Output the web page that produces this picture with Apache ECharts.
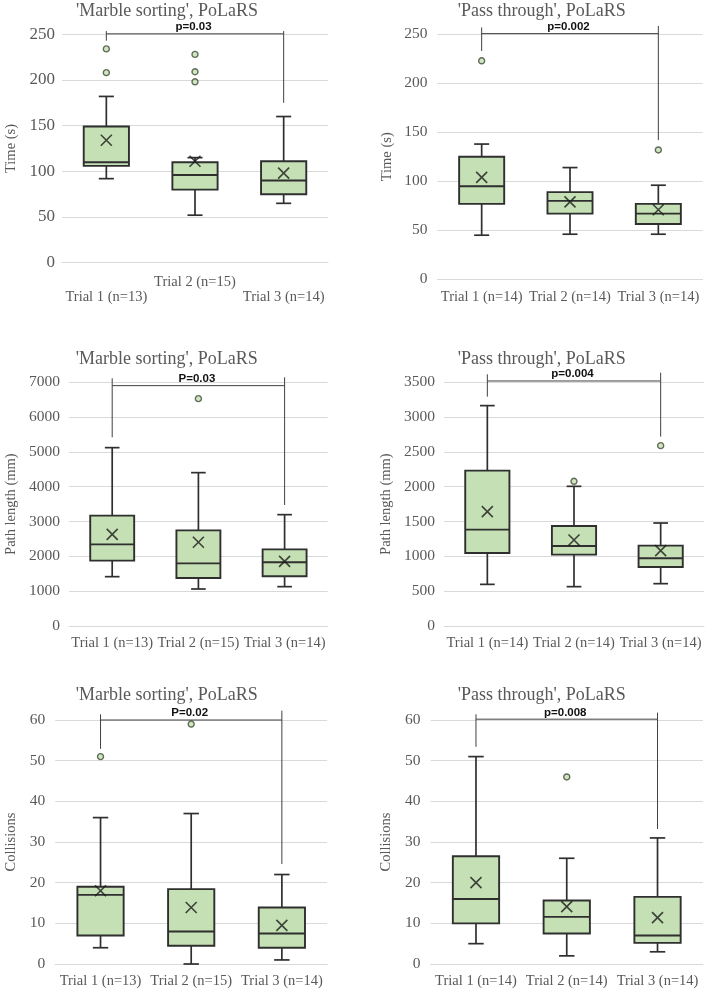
<!DOCTYPE html>
<html>
<head>
<meta charset="utf-8">
<script src="https://cdn.jsdelivr.net/npm/echarts@6/dist/echarts.min.js"></script>
<style>
html,body{margin:0;padding:0;background:#fff;}
#c{width:708px;height:995px;}
</style>
</head>
<body>
<div id="c"></div>
<script>
// ---------- DATA ----------
const catsMarble = ['Trial 1 (n=13)', 'Trial 2 (n=15)', 'Trial 3 (n=14)'];
const catsPass = ['Trial 1 (n=14)', 'Trial 2 (n=14)', 'Trial 3 (n=14)'];

const titles = ["'Marble sorting', PoLaRS", "'Pass through', PoLaRS", "'Marble sorting', PoLaRS", "'Pass through', PoLaRS", "'Marble sorting', PoLaRS", "'Pass through', PoLaRS"];
const yNames = ['Time (s)', 'Time (s)', 'Path length (mm)', 'Path length (mm)', 'Collisions', 'Collisions'];
const pLabels = ['p=0.03', 'p=0.002', 'P=0.03', 'p=0.004', 'P=0.02', 'p=0.008'];
const yMax = [250, 250, 7000, 3500, 60, 60];
const yStep = [50, 50, 1000, 500, 10, 10];

// box: [whisker low, Q1, median, Q3, whisker high]
const timeMarbleBox = [[92, 106, 110, 149, 182], [52, 80, 96, 110, 115], [65, 75, 90, 111, 160]];
const timeMarbleMean = [134, 111, 98];
const timeMarbleOut = [[0, 234], [0, 208], [1, 228], [1, 209], [1, 198]];
// significance bracket: [left top, left bottom, bar, right top, right bottom]
const timeMarbleSig = [253.5, 243, 250.5, 253.5, 175];

const timePassBox = [[45, 77, 95, 125, 138], [46, 67, 80, 89, 114], [46, 56.5, 67, 77, 96]];
const timePassMean = [104, 79, 71];
const timePassOut = [[0, 223], [2, 132]];
const timePassSig = [257, 233, 250.7, 258.5, 142];

const pathMarbleBox = [[1417, 1877, 2346, 3170, 5123], [1063, 1379, 1800, 2748, 4405], [1130, 1427, 1829, 2202, 3198]];
const pathMarbleMean = [2633, 2404, 1858];
const pathMarbleOut = [[1, 6531]];
const pathMarbleSig = [7115, 5420, 6904, 7144, 3476];

const pathPassBox = [[598, 1049, 1384, 2231, 3165], [565, 1025, 1149, 1436, 2006], [608, 847, 972, 1154, 1479]];
const pathPassMean = [1642, 1235, 1082];
const pathPassOut = [[1, 2078], [2, 2590]];
const pathPassSig = [3615, 3294, 3519, 3639, 2720];

const collMarbleBox = [[4, 7, 17, 19, 36], [0, 4.5, 8, 18.4, 37], [1, 4, 7.5, 13.9, 22]];
const collMarbleMean = [18, 13.9, 9.5];
const collMarbleOut = [[0, 51], [1, 59]];
const collMarbleSig = [61.4, 52.9, 60, 62.3, 24.6];

const collPassBox = [[5, 10, 16, 26.5, 51], [2, 7.5, 11.6, 15.6, 26], [3, 5.2, 7, 16.5, 31]];
const collPassMean = [20, 14.1, 11.4];
const collPassOut = [[1, 46]];
const collPassSig = [61.4, 53.4, 60.2, 61.8, 33.2];

// ---------- LAYOUT ----------
const panels = [
  {cats: catsMarble, box: timeMarbleBox, mean: timeMarbleMean, out: timeMarbleOut, sig: timeMarbleSig},
  {cats: catsPass, box: timePassBox, mean: timePassMean, out: timePassOut, sig: timePassSig},
  {cats: catsMarble, box: pathMarbleBox, mean: pathMarbleMean, out: pathMarbleOut, sig: pathMarbleSig},
  {cats: catsPass, box: pathPassBox, mean: pathPassMean, out: pathPassOut, sig: pathPassSig},
  {cats: catsMarble, box: collMarbleBox, mean: collMarbleMean, out: collMarbleOut, sig: collMarbleSig},
  {cats: catsPass, box: collPassBox, mean: collPassMean, out: collPassOut, sig: collPassSig}
];
const layouts = [
  {left: 62, top: 34.3, width: 266, height: 228.4, tx: 167, ty: 2, gap: 43, lm: 7, yfs: 17, stagger: true},
  {left: 437.5, top: 34.3, width: 265, height: 245, tx: 541.7, ty: 2, gap: 42.5, lm: 10, yfs: 15.5},
  {left: 69.1, top: 382.3, width: 258.6, height: 243.7, tx: 166.7, ty: 350, gap: 50, lm: 9, yfs: 15.5},
  {left: 444, top: 382.3, width: 260, height: 243.7, tx: 541.7, ty: 350, gap: 50, lm: 9, yfs: 15.5},
  {left: 55.2, top: 720, width: 272, height: 244, tx: 166.7, ty: 686.7, gap: 36.5, lm: 10, yfs: 15.5},
  {left: 430.6, top: 720, width: 272.3, height: 244, tx: 541.7, ty: 686.7, gap: 37, lm: 10, yfs: 15.5}
];

const SERIF = '"Liberation Serif", "Times New Roman", serif';
const GRAY = '#595959';
const GRID = '#d9d9d9';
const FILL = '#c5e0b4';
const EDGE = '#2f2f2f';

const grids = [], xAxes = [], yAxes = [], series = [], titleOpts = [];

panels.forEach((p, i) => {
  const L = layouts[i];
  grids.push({left: L.left, top: L.top, width: L.width, height: L.height});
  titleOpts.push({
    text: titles[i], left: L.tx, top: L.ty, textAlign: 'center', padding: 0,
    textStyle: {fontFamily: SERIF, fontSize: 18, fontWeight: 'normal', color: GRAY}
  });
  xAxes.push({
    type: 'category', gridIndex: i, data: p.cats, boundaryGap: true,
    axisLine: {show: true, lineStyle: {color: GRID, width: 1}},
    axisTick: {show: false},
    axisLabel: {
      interval: 0, color: GRAY, fontFamily: SERIF, fontSize: 14.5,
      margin: L.stagger ? 12 : 10,
      lineHeight: L.stagger ? 15 : undefined,
      formatter: L.stagger ? ((v, idx) => idx === 1 ? v : '\n' + v) : undefined
    },
    splitLine: {show: false}
  });
  yAxes.push({
    type: 'value', gridIndex: i, min: 0, max: yMax[i], interval: yStep[i],
    name: yNames[i], nameLocation: 'middle', nameRotate: 90, nameGap: L.gap,
    nameTextStyle: {fontFamily: SERIF, fontSize: 14.5, color: GRAY},
    axisLine: {show: false}, axisTick: {show: false},
    axisLabel: {color: GRAY, fontFamily: SERIF, fontSize: L.yfs, margin: L.lm, formatter: v => String(v)},
    splitLine: {show: true, lineStyle: {color: GRID, width: 1}}
  });

  // boxes
  series.push({
    type: 'custom', xAxisIndex: i, yAxisIndex: i, z: 2,
    data: p.box.map((b, k) => [k].concat(b)),
    encode: {x: 0, y: [1, 2, 3, 4, 5]},
    renderItem: function (params, api) {
      const x = api.value(0);
      const lo = api.coord([x, api.value(1)]);
      const q1 = api.coord([x, api.value(2)]);
      const md = api.coord([x, api.value(3)]);
      const q3 = api.coord([x, api.value(4)]);
      const hi = api.coord([x, api.value(5)]);
      const band = api.size([1, 0])[0];
      const bw = band * 0.51, cw = band * 0.17;
      const cx = lo[0];
      const ls = {stroke: EDGE, lineWidth: 1.7};
      return {
        type: 'group',
        children: [
          {type: 'line', shape: {x1: cx, y1: q3[1], x2: cx, y2: hi[1]}, style: ls},
          {type: 'line', shape: {x1: cx, y1: q1[1], x2: cx, y2: lo[1]}, style: ls},
          {type: 'line', shape: {x1: cx - cw / 2, y1: hi[1], x2: cx + cw / 2, y2: hi[1]}, style: ls},
          {type: 'line', shape: {x1: cx - cw / 2, y1: lo[1], x2: cx + cw / 2, y2: lo[1]}, style: ls},
          {type: 'rect', shape: {x: cx - bw / 2, y: q3[1], width: bw, height: q1[1] - q3[1]},
            style: {fill: FILL, stroke: EDGE, lineWidth: 1.9}},
          {type: 'line', shape: {x1: cx - bw / 2, y1: md[1], x2: cx + bw / 2, y2: md[1]}, style: {stroke: EDGE, lineWidth: 1.9}}
        ]
      };
    }
  });

  // means
  series.push({
    type: 'scatter', xAxisIndex: i, yAxisIndex: i, z: 4,
    data: p.mean.map((m, k) => [k, m]),
    symbol: 'path://M0,0L10,10M10,0L0,10', symbolSize: 11,
    itemStyle: {color: 'rgba(0,0,0,0)', borderColor: '#1a1a1a', borderWidth: 1.6}
  });

  // outliers
  series.push({
    type: 'scatter', xAxisIndex: i, yAxisIndex: i, z: 4,
    data: p.out, symbol: 'circle', symbolSize: 6,
    itemStyle: {color: FILL, borderColor: '#3d4a33', borderWidth: 1.4}
  });

  // significance bracket
  series.push({
    type: 'custom', xAxisIndex: i, yAxisIndex: i, z: 3, clip: false,
    data: [[0, 2].concat(p.sig)],
    renderItem: function (params, api) {
      const xa = api.value(0), xb = api.value(1);
      const lt = api.coord([xa, api.value(2)]);
      const lb = api.coord([xa, api.value(3)]);
      const bl = api.coord([xa, api.value(4)]);
      const br = api.coord([xb, api.value(4)]);
      const rt = api.coord([xb, api.value(5)]);
      const rb = api.coord([xb, api.value(6)]);
      const st = {stroke: '#404040', lineWidth: 1};
      return {
        type: 'group',
        children: [
          {type: 'line', shape: {x1: lt[0], y1: lt[1], x2: lb[0], y2: lb[1]}, style: st},
          {type: 'line', shape: {x1: bl[0], y1: bl[1], x2: br[0], y2: br[1]}, style: st},
          {type: 'line', shape: {x1: rt[0], y1: rt[1], x2: rb[0], y2: rb[1]}, style: st},
          {type: 'text', x: (bl[0] + br[0]) / 2 - 1.5, y: bl[1] - 6.7,
            style: {text: pLabels[i], fill: '#111', font: 'bold 11.5px "Liberation Sans", Arial, sans-serif',
              align: 'center', verticalAlign: 'middle'}}
        ]
      };
    }
  });
});

const chart = echarts.init(document.getElementById('c'), null, {renderer: 'canvas'});
chart.setOption({
  animation: false,
  backgroundColor: '#ffffff',
  title: titleOpts,
  grid: grids,
  xAxis: xAxes,
  yAxis: yAxes,
  series: series
});
</script>
</body>
</html>
